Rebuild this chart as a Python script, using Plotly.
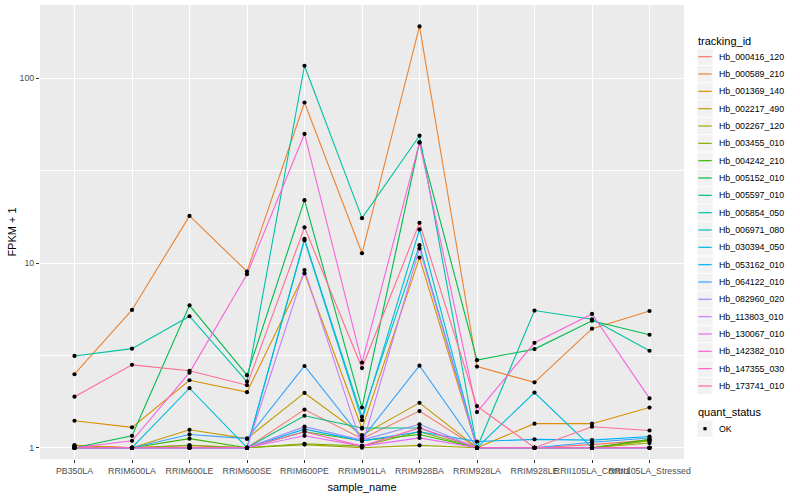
import plotly.graph_objects as go

# ---------------- data ----------------
samples = ["PB350LA", "RRIM600LA", "RRIM600LE", "RRIM600SE", "RRIM600PE",
           "RRIM901LA", "RRIM928BA", "RRIM928LA", "RRIM928LE",
           "RRII105LA_Control", "RRII105LA_Stressed"]

tracking_ids = ["Hb_000416_120", "Hb_000589_210", "Hb_001369_140", "Hb_002217_490",
                "Hb_002267_120", "Hb_003455_010", "Hb_004242_210", "Hb_005152_010",
                "Hb_005597_010", "Hb_005854_050", "Hb_006971_080", "Hb_030394_050",
                "Hb_053162_010", "Hb_064122_010", "Hb_082960_020", "Hb_113803_010",
                "Hb_130067_010", "Hb_142382_010", "Hb_147355_030", "Hb_173741_010"]

colors = ["#F8766D", "#EA8331", "#D89000", "#C09B00", "#A3A500", "#7CAE00", "#39B600",
          "#00BB4E", "#00BF7D", "#00C1A3", "#00BFC4", "#00BAE0", "#00B0F6", "#35A2FF",
          "#9590FF", "#C77CFF", "#E76BF3", "#FA62DB", "#FF62BC", "#FF6C91"]

# FPKM + 1 values, one list per tracking_id, in sample order
Hb_000416_120 = [1.03, 1.00, 1.03, 1.00, 1.61, 1.12, 1.58, 1.00, 1.00, 1.04, 1.10]
Hb_000589_210 = [2.50, 5.57, 18.0, 9.00, 74.0, 11.3, 191.0, 2.75, 2.26, 4.41, 5.50]
Hb_001369_140 = [1.40, 1.29, 2.32, 2.00, 8.80, 1.27, 10.7, 1.00, 1.35, 1.35, 1.65]
Hb_002217_490 = [1.03, 1.00, 1.25, 1.12, 1.98, 1.17, 1.75, 1.00, 1.00, 1.00, 1.09]
Hb_002267_120 = [1.00, 1.00, 1.00, 1.00, 1.04, 1.00, 1.03, 1.00, 1.00, 1.00, 1.06]
Hb_003455_010 = [1.00, 1.00, 1.03, 1.00, 1.05, 1.02, 1.22, 1.00, 1.00, 1.00, 1.09]
Hb_004242_210 = [1.00, 1.00, 1.12, 1.00, 1.22, 1.09, 1.18, 1.00, 1.00, 1.00, 1.11]
Hb_005152_010 = [1.00, 1.16, 5.90, 2.47, 21.9, 1.65, 45.0, 2.98, 3.42, 4.87, 4.09]
Hb_005597_010 = [1.00, 1.00, 1.00, 1.00, 1.49, 1.28, 1.28, 1.00, 1.00, 1.00, 1.00]
Hb_005854_050 = [3.14, 3.44, 5.15, 2.28, 117.0, 17.5, 48.9, 1.00, 5.53, 4.96, 3.35]
Hb_006971_080 = [1.00, 1.00, 1.00, 1.00, 13.5, 1.47, 12.5, 1.00, 1.00, 1.00, 1.00]
Hb_030394_050 = [1.00, 1.00, 2.10, 1.00, 13.3, 1.41, 15.2, 1.00, 1.99, 1.00, 1.00]
Hb_053162_010 = [1.00, 1.00, 1.00, 1.00, 1.26, 1.09, 1.22, 1.08, 1.11, 1.10, 1.15]
Hb_064122_010 = [1.00, 1.00, 1.18, 1.12, 2.77, 1.12, 2.78, 1.00, 1.00, 1.07, 1.13]
Hb_082960_020 = [1.00, 1.00, 1.00, 1.00, 1.30, 1.10, 1.34, 1.00, 1.00, 1.00, 1.00]
Hb_113803_010 = [1.00, 1.00, 1.00, 1.00, 9.16, 1.02, 12.0, 1.00, 1.00, 1.00, 1.00]
Hb_130067_010 = [1.00, 1.00, 1.00, 1.00, 1.16, 1.02, 1.13, 1.00, 1.00, 1.00, 1.00]
Hb_142382_010 = [1.00, 1.09, 2.55, 8.70, 50.0, 2.89, 45.0, 1.56, 3.70, 5.30, 1.85]
Hb_147355_030 = [1.00, 1.00, 1.00, 1.00, 1.22, 1.02, 1.28, 1.00, 1.00, 1.00, 1.00]
Hb_173741_010 = [1.89, 2.81, 2.61, 2.18, 15.6, 2.70, 16.5, 1.68, 1.00, 1.30, 1.24]

series = [Hb_000416_120, Hb_000589_210, Hb_001369_140, Hb_002217_490, Hb_002267_120,
          Hb_003455_010, Hb_004242_210, Hb_005152_010, Hb_005597_010, Hb_005854_050,
          Hb_006971_080, Hb_030394_050, Hb_053162_010, Hb_064122_010, Hb_082960_020,
          Hb_113803_010, Hb_130067_010, Hb_142382_010, Hb_147355_030, Hb_173741_010]

y_ticks = [1, 10, 100]
y_tick_labels = ["1", "10", "100"]
quant_status = ["OK"]

# ---------------- figure ----------------
W, H = 800, 500
L, R, T, B = 40, 116, 5, 41
PW, PH = W - L - R, H - T - B
FONT = "Liberation Sans, Arial, sans-serif"

fig = go.Figure()
for name, col, vals in zip(tracking_ids, colors, series):
    fig.add_trace(go.Scatter(x=samples, y=vals, mode="lines", name=name,
                             line=dict(color=col, width=1.1), showlegend=False,
                             hoverinfo="x+y+name"))

pts_x, pts_y = [], []
for vals in series:
    pts_x.extend(samples)
    pts_y.extend(vals)
fig.add_trace(go.Scatter(x=pts_x, y=pts_y, mode="markers", name=quant_status[0],
                         marker=dict(color="black", size=4.2, symbol="circle"),
                         showlegend=False))

# ---- manual ggplot-like legend (layout decoration in pixel space) ----
def px2x(px):
    return (px - L) / PW

def py2y(py):
    return (H - B - py) / PH

shapes, annos = [], []
key_x0, key_x1 = 697.3, 712.7
text_x = 716.7
first_c, step = 56.7, 17.33

annos.append(dict(text="tracking_id", x=px2x(696), y=py2y(40.7), xref="paper", yref="paper",
                  xanchor="left", yanchor="middle", showarrow=False,
                  font=dict(size=11, color="black", family=FONT)))
for i, (name, col) in enumerate(zip(tracking_ids, colors)):
    cy = first_c + step * i
    shapes.append(dict(type="rect", xref="paper", yref="paper",
                       x0=px2x(key_x0), x1=px2x(key_x1),
                       y0=py2y(cy - step / 2 + 0.5), y1=py2y(cy + step / 2 - 0.5),
                       fillcolor="#F2F2F2", line=dict(width=0), layer="above"))
    shapes.append(dict(type="line", xref="paper", yref="paper",
                       x0=px2x(key_x0 + 1), x1=px2x(key_x1 - 1), y0=py2y(cy), y1=py2y(cy),
                       line=dict(color=col, width=1.2), layer="above"))
    annos.append(dict(text=name, x=px2x(text_x), y=py2y(cy), xref="paper", yref="paper",
                      xanchor="left", yanchor="middle", showarrow=False,
                      font=dict(size=8.8, color="black", family=FONT)))

qs_title_c, qs_item_c = 412.3, 428.7
annos.append(dict(text="quant_status", x=px2x(696), y=py2y(qs_title_c), xref="paper", yref="paper",
                  xanchor="left", yanchor="middle", showarrow=False,
                  font=dict(size=11, color="black", family=FONT)))
shapes.append(dict(type="rect", xref="paper", yref="paper",
                   x0=px2x(key_x0), x1=px2x(key_x1),
                   y0=py2y(qs_item_c - step / 2 + 0.5), y1=py2y(qs_item_c + step / 2 - 0.5),
                   fillcolor="#F2F2F2", line=dict(width=0), layer="above"))
cxk = (key_x0 + key_x1) / 2
shapes.append(dict(type="rect", xref="paper", yref="paper",
                   x0=px2x(cxk - 1.6), x1=px2x(cxk + 1.6),
                   y0=py2y(qs_item_c - 1.6), y1=py2y(qs_item_c + 1.6),
                   fillcolor="black", line=dict(width=0), layer="above"))
annos.append(dict(text=quant_status[0], x=px2x(text_x), y=py2y(qs_item_c), xref="paper", yref="paper",
                  xanchor="left", yanchor="middle", showarrow=False,
                  font=dict(size=8.8, color="black", family=FONT)))

fig.update_layout(
    width=W, height=H,
    margin=dict(l=L, r=R, t=T, b=B, pad=0),
    paper_bgcolor="white", plot_bgcolor="#EBEBEB",
    font=dict(family=FONT, size=11, color="black"),
    showlegend=False,
    shapes=shapes, annotations=annos,
    xaxis=dict(type="category", categoryorder="array", categoryarray=samples,
               range=[-0.6, len(samples) - 0.4],
               showgrid=True, gridcolor="white", gridwidth=1.1,
               ticks="outside", ticklen=3, tickwidth=1, tickcolor="#333333",
               tickangle=0, tickfont=dict(size=8.8, color="#4D4D4D", family=FONT),
               showline=False, zeroline=False, automargin=False,
               title=dict(text="sample_name", standoff=8,
                          font=dict(size=11, color="black", family=FONT))),
    yaxis=dict(type="log", range=[-0.061, 2.397],
               tickmode="array", tickvals=y_ticks, ticktext=y_tick_labels,
               showgrid=True, gridcolor="white", gridwidth=1.1,
               minor=dict(tickmode="array", tickvals=[10 ** 0.5, 10 ** 1.5],
                          showgrid=True, gridcolor="white", gridwidth=0.55, ticks=""),
               ticks="outside", ticklen=3, tickwidth=1, tickcolor="#333333",
               tickfont=dict(size=8.8, color="#4D4D4D", family=FONT),
               showline=False, zeroline=False, automargin=False,
               title=dict(text="FPKM + 1", standoff=0,
                          font=dict(size=11, color="black", family=FONT))),
)

fig.write_html("out.html", config={"displayModeBar": False},
               post_script="document.body.style.margin='0';document.body.style.padding='0';")
